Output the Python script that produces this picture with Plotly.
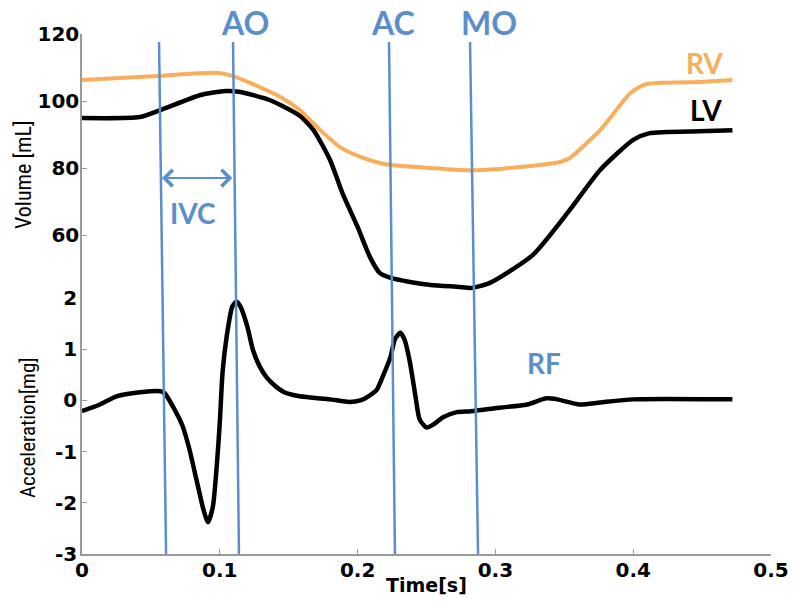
import plotly.graph_objects as go

# ---------------- data ----------------
lv_t = [0.000, 0.042, 0.057, 0.086, 0.104, 0.115, 0.136, 0.144, 0.158, 0.168, 0.180, 0.189,
        0.200, 0.209, 0.216, 0.224, 0.238, 0.253, 0.274, 0.282, 0.296, 0.327, 0.354, 0.376,
        0.400, 0.412, 0.448, 0.472]
lv_vol = [94.9, 95.2, 97.3, 101.8, 103.0, 102.7, 100.3, 98.8, 95.6, 91.3, 82.4, 72.5,
          62.4, 53.4, 48.7, 47.2, 46.0, 45.1, 44.5, 44.2, 45.7, 54.0, 67.5, 79.4,
          88.4, 90.4, 91.0, 91.3]

rv_t = [0.000, 0.055, 0.097, 0.109, 0.122, 0.144, 0.158, 0.173, 0.187, 0.202, 0.216, 0.224,
        0.253, 0.274, 0.285, 0.318, 0.347, 0.354, 0.376, 0.398, 0.409, 0.448, 0.472]
rv_vol = [106.3, 107.5, 108.4, 107.5, 105.4, 101.2, 97.3, 91.3, 86.3, 83.3, 81.5, 80.9,
          80.0, 79.4, 79.3, 80.3, 81.8, 83.0, 91.3, 102.4, 105.0, 105.7, 106.3]

acc_t = [0.000, 0.013, 0.025, 0.042, 0.057, 0.060, 0.066, 0.073, 0.078, 0.083, 0.088, 0.0914,
         0.095, 0.098, 0.100, 0.102, 0.105, 0.109, 0.112, 0.115, 0.120, 0.124, 0.129, 0.134,
         0.139, 0.146, 0.158, 0.180, 0.194, 0.202, 0.209, 0.214, 0.218, 0.224, 0.227, 0.231,
         0.234, 0.238, 0.242, 0.245, 0.250, 0.255, 0.262, 0.272, 0.282, 0.304, 0.323, 0.337,
         0.345, 0.361, 0.376, 0.400, 0.472]
acc_mg = [-0.21, -0.08, 0.08, 0.16, 0.18, 0.14, -0.12, -0.50, -0.96, -1.54, -2.12, -2.38,
          -2.07, -1.21, -0.43, 0.55, 1.25, 1.83, 1.93, 1.83, 1.44, 0.99, 0.66, 0.45,
          0.31, 0.17, 0.08, 0.02, -0.03, 0.00, 0.10, 0.21, 0.45, 0.86, 1.19, 1.32,
          1.19, 0.74, 0.08, -0.37, -0.53, -0.47, -0.33, -0.23, -0.21, -0.14, -0.08, 0.04,
          0.02, -0.08, -0.04, 0.02, 0.02]

# valve events (slanted marker lines): time at top and bottom of the figure
event_names = ["IVC start", "AO", "AC", "MO"]
event_t_top = [0.0559, 0.1096, 0.2228, 0.2816]
event_t_bottom = [0.0610, 0.1139, 0.2271, 0.2874]

vol_ticks = [60, 80, 100, 120]
acc_ticks = [-3, -2, -1, 0, 1, 2]
acc_tick_text = ["-3", "-2", "-1", "0", "1", "2"]
time_ticks = [0, 0.1, 0.2, 0.3, 0.4, 0.5]
time_tick_text = ["0", "0.1", "0.2", "0.3", "0.4", "0.5"]

# ---------------- style ----------------
BLUE = "#5B8FCB"
ORANGE = "#F9AE5B"
AXIS = "#9A9A9A"
TICKFONT = dict(family="DejaVu Sans, Liberation Sans, sans-serif", size=20, color="black", weight="bold")
NARROW = "Liberation Sans Narrow, Arial Narrow, Roboto Condensed, Liberation Sans, sans-serif"
LABELFONT = "Lato, Calibri, Open Sans, sans-serif"

fig = go.Figure()

fig.add_trace(go.Scatter(x=rv_t, y=rv_vol, mode="lines", line=dict(color=ORANGE, width=4, shape="spline", smoothing=0.6),
                         xaxis="x2", yaxis="y2", name="RV"))
fig.add_trace(go.Scatter(x=lv_t, y=lv_vol, mode="lines", line=dict(color="black", width=4.5, shape="spline", smoothing=0.6),
                         xaxis="x2", yaxis="y2", name="LV"))
fig.add_trace(go.Scatter(x=acc_t, y=acc_mg, mode="lines", line=dict(color="black", width=4.5, shape="spline", smoothing=0.6),
                         xaxis="x", yaxis="y", name="RF"))

for t0, t1 in zip(event_t_top, event_t_bottom):
    fig.add_shape(type="line", xref="x", yref="paper", x0=t0, x1=t1, y0=0.9846, y1=0.0,
                  line=dict(color=BLUE, width=2.5))

# IVC double arrow between the first two event lines
fig.add_annotation(x=event_t_top[1] - 0.0005, y=77, ax=event_t_top[0] + 0.001, ay=77,
                   xref="x2", yref="y2", axref="x2", ayref="y2", text="", showarrow=True,
                   arrowhead=4, startarrowhead=4, arrowside="end+start", arrowsize=1.6,
                   startarrowsize=1.6, arrowwidth=2, arrowcolor=BLUE)

labels = [
    ("AO", 0.2366, 1.0212, BLUE),
    ("AC", 0.4513, 1.0212, BLUE),
    ("MO", 0.5907, 1.0212, BLUE),
    ("IVC", 0.1611, 0.6558, BLUE),
    ("RF", 0.6705, 0.3673, BLUE),
    ("RV", 0.9042, 0.9442, ORANGE),
    ("LV", 0.9057, 0.8538, "black"),
]
for txt, px, py, col in labels:
    size = 32 if txt in ("AO", "AC", "MO") else 28
    fig.add_annotation(x=px, y=py, xref="paper", yref="paper", text=txt, showarrow=False,
                       font=dict(family=LABELFONT, size=size, color=col, weight="bold"),
                       xanchor="center", yanchor="middle")

# axis titles
fig.add_annotation(x=-0.0856, y=0.7288, xref="paper", yref="paper", text="Volume [mL]", showarrow=False,
                   textangle=-90, font=dict(family=NARROW, size=22, color="black"), xanchor="center", yanchor="middle")
fig.add_annotation(x=-0.0784, y=0.2442, xref="paper", yref="paper", text="Acceleration[mg]", showarrow=False,
                   textangle=-90, font=dict(family=NARROW, size=21, color="black"), xanchor="center", yanchor="middle")
fig.add_annotation(x=0.5, y=-0.0596, xref="paper", yref="paper", text="Time[s]", showarrow=False,
                   font=dict(family="DejaVu Sans, Liberation Sans, sans-serif", size=19, color="black", weight="bold"),
                   xanchor="center", yanchor="middle")

fig.update_layout(
    width=800, height=608,
    margin=dict(l=82, r=29, t=34, b=54, autoexpand=False),
    paper_bgcolor="white", plot_bgcolor="white",
    showlegend=False,
    xaxis=dict(range=[0, 0.5], domain=[0, 1], anchor="y", showline=True, linecolor=AXIS, linewidth=1.5,
               ticks="inside", ticklen=5, tickcolor=AXIS, tickvals=time_ticks, ticktext=time_tick_text,
               tickfont=TICKFONT, showgrid=False, zeroline=False, mirror=False, automargin=False,
               ticklabelstandoff=-3),
    xaxis2=dict(range=[0, 0.5], domain=[0, 1], anchor="y2", visible=False, matches="x"),
    yaxis=dict(range=[-3, 2], domain=[0, 0.4923], anchor="x", showline=True, linecolor=AXIS, linewidth=1.5,
               ticks="inside", ticklen=5, tickcolor=AXIS, tickvals=acc_ticks, ticktext=acc_tick_text,
               tickfont=TICKFONT, showgrid=False, zeroline=False, automargin=False, ticklabelstandoff=-1),
    yaxis2=dict(range=[41.2, 120], domain=[0.4923, 1], anchor="x2", showline=True, linecolor=AXIS, linewidth=1.5,
                ticks="inside", ticklen=5, tickcolor=AXIS, tickvals=vol_ticks,
                tickfont=TICKFONT, showgrid=False, zeroline=False, automargin=False, ticklabelstandoff=-3),
)

fig.write_html("out.html", config={"displayModeBar": False},
               post_script="document.body.style.margin='0';document.body.style.padding='0';")
